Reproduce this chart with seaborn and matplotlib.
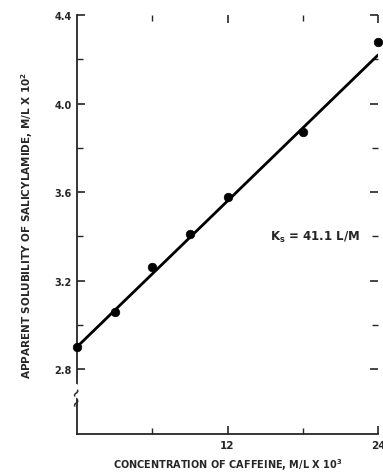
import numpy as np
import pandas as pd
import matplotlib
matplotlib.use("Agg")
import matplotlib.pyplot as plt
import seaborn as sns

# datos
cafeina = [0, 3, 6, 9, 12, 18, 24]
solubilidad = [2.90, 3.06, 3.26, 3.41, 3.58, 3.87, 4.28]
# recta de ajuste (extremos)
recta_x = [0, 24]
recta_y = [2.90, 4.22]
y_ticks = [2.8, 3.2, 3.6, 4.0, 4.4]
y_minor = [3.0, 3.4, 3.8, 4.2]
x_ticks = [12, 24]
x_minor = [6, 18]

sns.set_style("ticks")
plt.rcParams['font.family'] = ['DejaVu Sans']
plt.rcParams['font.weight'] = 'bold'

df = pd.DataFrame({'x': cafeina, 'y': solubilidad})
df_recta = pd.DataFrame({'x': recta_x, 'y': recta_y})

fig = plt.figure(figsize=(3.83, 4.77), dpi=100)
ax = fig.add_axes([0.201, 0.088, 0.786, 0.878])

sns.lineplot(data=df_recta, x='x', y='y', color='black', lw=2.0, ax=ax)
sns.scatterplot(data=df, x='x', y='y', color='black', s=38, edgecolor='black',
                zorder=5, clip_on=False, ax=ax)

ax.set_xlim(0, 24)
ax.set_ylim(2.506, 4.4)
ax.set_yticks(y_ticks)
ax.set_yticklabels([f"{v:.1f}" for v in y_ticks], fontsize=7, fontweight='bold')
ax.set_yticks(y_minor, minor=True)
ax.set_xticks(x_ticks)
ax.set_xticklabels([str(v) for v in x_ticks], fontsize=7.5, fontweight='bold')
ax.set_xticks(x_minor, minor=True)

ax.tick_params(axis='both', which='major', direction='in', length=6, width=1.2,
               top=True, right=True, pad=4)
ax.tick_params(axis='both', which='minor', direction='in', length=4, width=1.0,
               top=True, right=True)

for lado in ['top', 'right']:
    ax.spines[lado].set_visible(False)
for lado in ['left', 'bottom']:
    ax.spines[lado].set_linewidth(1.3)

# corte del eje
ax.text(0, 2.70, "~", transform=ax.transData, ha='center', va='center',
        fontsize=9, rotation=60, clip_on=False,
        bbox=dict(facecolor='white', edgecolor='none', pad=0.5))
ax.text(0, 2.655, "~", transform=ax.transData, ha='center', va='center',
        fontsize=9, rotation=60, clip_on=False)

ax.text(19.0, 3.40, r"K$_\mathregular{s}$ = 41.1 L/M", ha='center', va='center',
        fontsize=8.5, fontweight='bold')

ax.set_xlabel("CONCENTRATION OF CAFFEINE, M/L X 10$^\\mathregular{3}$",
              fontsize=7, fontweight='bold', labelpad=5)
ax.set_ylabel("APPARENT SOLUBILITY OF SALICYLAMIDE, M/L X 10$^\\mathregular{2}$",
              fontsize=7.5, fontweight='bold', labelpad=14)

fig.savefig("out.png", dpi=100)
